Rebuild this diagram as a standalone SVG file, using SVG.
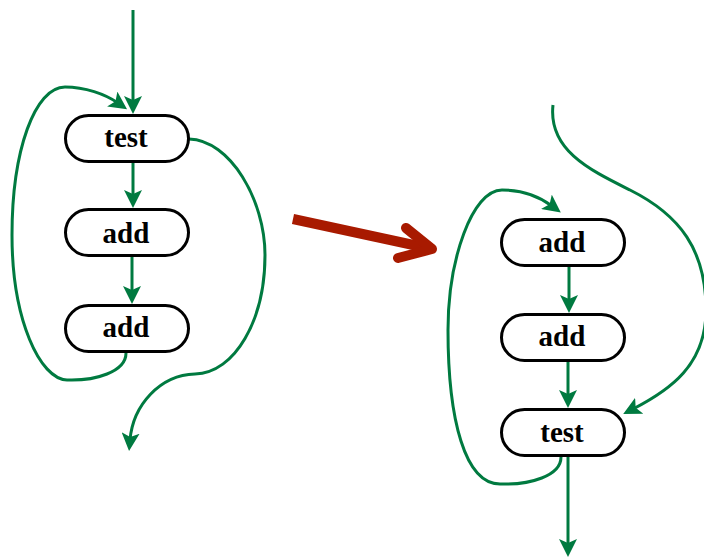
<svg xmlns="http://www.w3.org/2000/svg" width="704" height="557" viewBox="0 0 704 557">
  <style>
    .node rect { fill: #ffffff; stroke: #000000; stroke-width: 3; }
    .node text { font-family: "Liberation Serif", "Times New Roman", serif; font-weight: bold; font-size: 29px; fill: #000000; text-anchor: middle; }
    .edge { fill: none; stroke: #007a40; stroke-width: 3; marker-end: url(#head); }
    .big { fill: none; stroke: #a81a00; stroke-width: 10; stroke-linejoin: round; }
  </style>
  <defs>
    <marker id="head" viewBox="0 0 18 18" refX="7" refY="9" markerWidth="18" markerHeight="18" markerUnits="userSpaceOnUse" orient="auto">
      <path d="M0,0 L18,9 L0,18 L4,9 Z" fill="#007a40"/>
    </marker>
  </defs>

  <rect width="704" height="557" fill="#ffffff"/>

  <!-- connectors -->
  <g id="connectors">
    <!-- left loop: test, add, add -->
    <path class="edge" d="M133,10 L133,103"/>
    <path class="edge" d="M133,163 L133,197"/>
    <path class="edge" d="M132,257 L132,293"/>
    <path class="edge" d="M126,353 C126,372 95,381 67,380 C40,379 12,320 12,235 C12,150 35,87 65,87 C85,87 105,94 118,103"/>
    <path class="edge" d="M189,139 C230,140 265,200 265,255 C265,320 235,373 195,374 C160,375 133,405 130,440"/>

    <!-- transformation arrow -->
    <g id="transform">
      <path class="big" d="M293,219 L432,249" stroke-linecap="butt"/>
      <path class="big" d="M406,228 L432,249 L398,258" stroke-linecap="round"/>
    </g>

    <!-- right loop: add, add, test -->
    <path class="edge" d="M553,105 C548,150 590,170 630,190 C680,215 706,250 706,310 C706,365 670,390 633,409"/>
    <path class="edge" d="M569,267 L569,302"/>
    <path class="edge" d="M568,362 L568,397"/>
    <path class="edge" d="M568,457 L568,546"/>
    <path class="edge" d="M561,457 C561,476 530,485 500,484 C465,484 448,420 448,330 C448,260 472,190 502,190 C522,190 540,197 552,206"/>
  </g>

  <!-- left nodes -->
  <g id="left-test" class="node">
    <rect x="65.5" y="115.5" width="123" height="46" rx="23"/>
    <text x="126" y="147">test</text>
  </g>
  <g id="left-add1" class="node">
    <rect x="65.5" y="209.5" width="123" height="46" rx="23"/>
    <text x="126" y="243">add</text>
  </g>
  <g id="left-add2" class="node">
    <rect x="65.5" y="305.5" width="123" height="46" rx="23"/>
    <text x="126" y="337">add</text>
  </g>

  <!-- right nodes -->
  <g id="right-add1" class="node">
    <rect x="501.5" y="219.5" width="123" height="46" rx="23"/>
    <text x="562" y="252">add</text>
  </g>
  <g id="right-add2" class="node">
    <rect x="501.5" y="314.5" width="123" height="46" rx="23"/>
    <text x="562" y="346">add</text>
  </g>
  <g id="right-test" class="node">
    <rect x="501.5" y="409.5" width="123" height="46" rx="23"/>
    <text x="562" y="442">test</text>
  </g>
</svg>
